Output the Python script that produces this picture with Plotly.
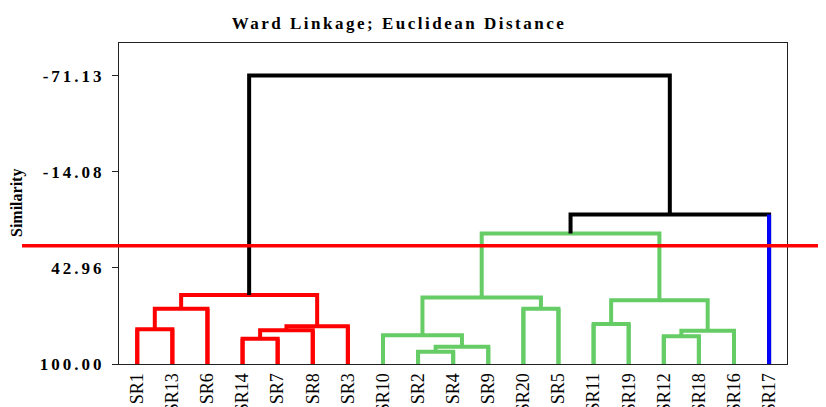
import plotly.graph_objects as go

# ---------------- data ----------------
leaves = ["SR1", "SR13", "SR6", "SR14", "SR7", "SR8", "SR3", "SR10", "SR2", "SR4",
          "SR9", "SR20", "SR5", "SR11", "SR19", "SR12", "SR18", "SR16", "SR17"]
leaf_colors = ["red"] * 7 + ["green"] * 11 + ["blue"]

merge_names = ["C1", "C2", "C3", "C4", "C5", "C6", "C7", "C8", "C9", "C10",
               "C11", "C12", "C13", "C14", "C15", "C16", "C17", "C18"]
merge_left = ["SR1", "C1", "SR14", "C3", "C4", "C2", "SR2", "C7", "SR10", "SR20",
              "C9", "SR11", "SR12", "C13", "C12", "C11", "C16", "C6"]
merge_right = ["SR13", "SR6", "SR7", "SR8", "SR3", "C5", "SR4", "SR9", "C8", "SR5",
               "C10", "SR19", "SR18", "SR16", "C14", "C15", "SR17", "C17"]
merge_height = [79.4, 67.2, 85.0, 80.0, 77.6, 59.1, 92.7, 89.7, 83.0, 67.2,
                60.5, 76.3, 83.6, 80.3, 62.2, 22.5, 11.3, -71.13]
merge_color = ["red"] * 6 + ["green"] * 10 + ["black", "black"]

y_tick_vals = [-71.13, -14.08, 42.96, 100.00]
y_tick_text = ["-71.13", "-14.08", "42.96", "100.00"]
cut_level = 29.9

title_text = "Ward Linkage; Euclidean Distance"
y_title = "Similarity"

# ---------------- styling ----------------
COL = {"red": "#ff0000", "green": "#66cc66", "blue": "#0000ff", "black": "#000000"}
FONT = "Liberation Serif, Times New Roman, serif"
LW = 4

# ---------------- build dendrogram ----------------
pos = {name: i + 1 for i, name in enumerate(leaves)}
hgt = {name: 100.0 for name in leaves}
for n, l, r, h in zip(merge_names, merge_left, merge_right, merge_height):
    pos[n] = (pos[l] + pos[r]) / 2
    hgt[n] = h

segs = {c: ([], []) for c in COL}
for n, l, r, h, c in zip(merge_names, merge_left, merge_right, merge_height, merge_color):
    xs, ys = segs[c]
    xs += [pos[l], pos[l], pos[r], pos[r], None]
    ys += [hgt[l], h, h, hgt[r], None]

parent_h = {}
for l, r, h in zip(merge_left, merge_right, merge_height):
    parent_h[l] = h
    parent_h[r] = h

fig = go.Figure()
for c in ["green", "red", "black"]:
    xs, ys = segs[c]
    if xs:
        fig.add_trace(go.Scatter(x=xs, y=ys, mode="lines",
                                 line=dict(color=COL[c], width=LW),
                                 hoverinfo="skip", showlegend=False))
# leaf stems in leaf colour (overrides where it differs)
for name, c in zip(leaves, leaf_colors):
    fig.add_trace(go.Scatter(x=[pos[name], pos[name]], y=[100.0, parent_h[name]],
                             mode="lines", line=dict(color=COL[c], width=LW),
                             hoverinfo="skip", showlegend=False))

# layout geometry (page body has an 8px margin)
W, H = 818, 399
L, R, T, B = 111, 39, 35, 43
pw = W - L - R
ph = H - T - B
fig.add_shape(type="line", xref="paper", yref="y",
              x0=(14 - L) / pw, x1=(W - L) / pw, y0=cut_level, y1=cut_level,
              line=dict(color="#ff0000", width=3.5), layer="above")

sp = lambda t, s: '<span style="letter-spacing:%spx">' % s + t + "</span>"

fig.update_layout(
    width=W, height=H,
    margin=dict(l=L, r=R, t=T, b=B, autoexpand=False),
    paper_bgcolor="white", plot_bgcolor="white",
    font=dict(family=FONT, color="black"),
    title=dict(text="<b>" + sp(title_text, 2.5) + "</b>", x=391 / W, xanchor="center",
               y=1 - 15 / H, yanchor="middle", yref="container",
               font=dict(family=FONT, size=17, color="black")),
    showlegend=False,
)
fig.update_xaxes(range=[0.48, 19.51], tickvals=list(range(1, len(leaves) + 1)),
                 ticktext=leaves, tickangle=-90, ticks="", automargin=False,
                 tickfont=dict(family=FONT, size=18, color="black"),
                 showline=True, linecolor="#222", linewidth=1, mirror=True,
                 showgrid=False, zeroline=False, ticklabelstandoff=1)
fig.update_yaxes(range=[100, -90.46], tickvals=y_tick_vals,
                 ticktext=["<b>" + sp(t, 3) + "</b>" for t in y_tick_text],
                 ticks="outside", ticklen=6, tickcolor="#222", automargin=False,
                 tickfont=dict(family=FONT, size=17, color="black"),
                 showline=True, linecolor="#222", linewidth=1, mirror=True,
                 showgrid=False, zeroline=False, ticklabelstandoff=4)
fig.add_annotation(text="<b>" + y_title + "</b>", textangle=-90,
                   xref="paper", yref="paper", x=(9 - L) / pw, y=(356 - 195) / ph,
                   xanchor="center", yanchor="middle", showarrow=False,
                   font=dict(family=FONT, size=16, color="black"))

fig.write_html("out.html")
